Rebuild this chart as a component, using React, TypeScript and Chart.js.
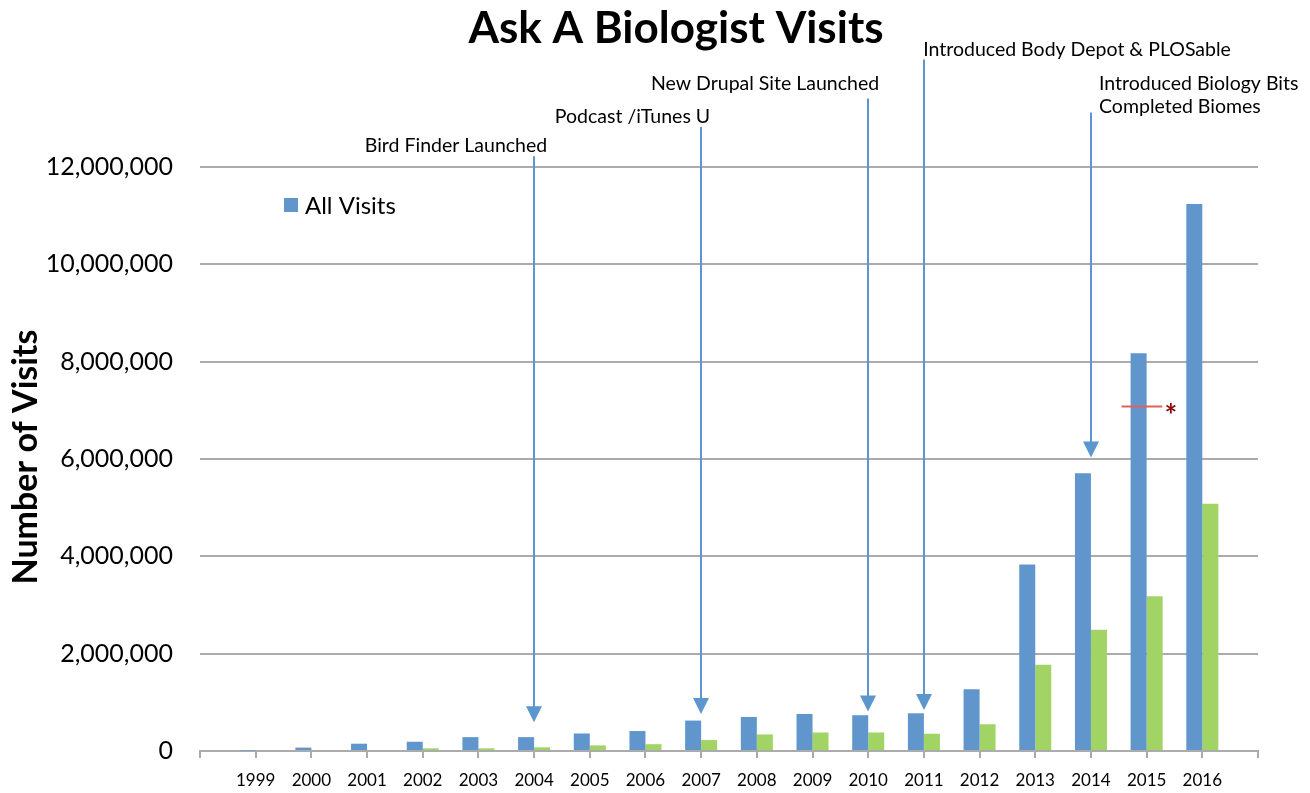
import React, { useEffect, useRef } from 'react';
import { Chart, registerables } from 'chart.js';

Chart.register(...registerables);

// ---------- data ----------
const years = ['1999', '2000', '2001', '2002', '2003', '2004', '2005', '2006', '2007', '2008', '2009', '2010', '2011', '2012', '2013', '2014', '2015', '2016'];
const allVisits = [10000, 70000, 150000, 190000, 285000, 285000, 360000, 410000, 625000, 700000, 760000, 735000, 775000, 1270000, 3830000, 5705000, 8175000, 11240000];
const otherVisits = [0, 0, 0, 55000, 55000, 75000, 115000, 140000, 225000, 340000, 380000, 380000, 355000, 550000, 1770000, 2490000, 3180000, 5080000];
const yTickValues = [0, 2000000, 4000000, 6000000, 8000000, 10000000, 12000000];

const arrowYears = ['2004', '2007', '2010', '2011', '2014'];
const arrowTipValues = [590000, 760000, 810000, 845000, 6030000];
const arrowTopValues = [12220000, 12820000, 13410000, 14210000, 13120000];

const noteTexts = ['Bird Finder Launched', 'Podcast /iTunes U', 'New Drupal Site Launched', 'Introduced Body Depot & PLOSable', 'Introduced Biology Bits', 'Completed Biomes'];
const noteValues = [12430000, 13040000, 13720000, 14410000, 13720000, 13230000];

const markerValue = 7080000;
const titleText = 'Ask A Biologist Visits';
const yTitleText = 'Number of Visits';

// layout of annotation anchors (category-index space) — not data
const noteAnchors = [
  { x: 4.597, align: 'center' },
  { x: 7.767, align: 'center' },
  { x: 10.147, align: 'center' },
  { x: 15.75, align: 'center' },
  { x: 16.145, align: 'left' },
  { x: 16.145, align: 'left' },
];

const BLUE = '#6096CB';
const GREEN = '#A1D465';
const ARROW = '#5B96CE';
const GRID = '#ABABAB';
const FONT = 'Lato, "Open Sans", sans-serif';

const labels = ['', ...years, ''];

const annotationPlugin = {
  id: 'annotations',
  afterDraw(chart: any) {
    const { ctx, scales } = chart;
    const xs = scales.x;
    const ys = scales.y;
    ctx.save();

    // title
    ctx.fillStyle = '#000';
    ctx.font = `bold 44px ${FONT}`;
    ctx.textAlign = 'center';
    ctx.textBaseline = 'alphabetic';
    ctx.fillText(titleText, 676, 43);

    // y title
    ctx.save();
    ctx.translate(37, 457);
    ctx.rotate(-Math.PI / 2);
    ctx.font = `bold 34px ${FONT}`;
    ctx.textAlign = 'center';
    ctx.fillText(yTitleText, 0, 0);
    ctx.restore();

    // legend
    ctx.fillStyle = BLUE;
    ctx.fillRect(284, 198, 14, 14);
    ctx.fillStyle = '#000';
    ctx.font = `24px ${FONT}`;
    ctx.textAlign = 'left';
    ctx.textBaseline = 'middle';
    ctx.fillText(chart.data.datasets[0].label, 305, 206);

    // arrows
    ctx.strokeStyle = ARROW;
    ctx.fillStyle = ARROW;
    ctx.lineWidth = 2;
    arrowYears.forEach((yr, i) => {
      const x = Math.round(xs.getPixelForValue(labels.indexOf(yr)));
      const yTip = ys.getPixelForValue(arrowTipValues[i]);
      const yTop = ys.getPixelForValue(arrowTopValues[i]);
      const hh = 16;
      const hw = 8;
      ctx.beginPath();
      ctx.moveTo(x, yTop);
      ctx.lineTo(x, yTip - hh + 1);
      ctx.stroke();
      ctx.beginPath();
      ctx.moveTo(x - hw, yTip - hh);
      ctx.lineTo(x + hw, yTip - hh);
      ctx.lineTo(x, yTip);
      ctx.closePath();
      ctx.fill();
    });

    // notes
    ctx.fillStyle = '#000';
    ctx.font = `19.5px ${FONT}`;
    ctx.textBaseline = 'middle';
    noteTexts.forEach((t, i) => {
      const a = noteAnchors[i];
      ctx.textAlign = a.align as CanvasTextAlign;
      ctx.fillText(t, xs.getPixelForValue(a.x), ys.getPixelForValue(noteValues[i]));
    });

    // red marker + asterisk on 2015
    const idx = labels.indexOf('2015');
    const my = Math.round(ys.getPixelForValue(markerValue)) + 0.5;
    ctx.strokeStyle = '#E0605A';
    ctx.lineWidth = 2;
    ctx.beginPath();
    ctx.moveTo(xs.getPixelForValue(idx - 0.45), my);
    ctx.lineTo(xs.getPixelForValue(idx + 0.28), my);
    ctx.stroke();
    ctx.fillStyle = '#8B0A0A';
    ctx.font = `bold 30px ${FONT}`;
    ctx.textAlign = 'left';
    ctx.textBaseline = 'middle';
    ctx.fillText('*', xs.getPixelForValue(idx + 0.32), ys.getPixelForValue(markerValue) + 10);

    ctx.restore();
  },
};

export default function App() {
  const ref = useRef<HTMLCanvasElement | null>(null);
  useEffect(() => {
    document.body.style.margin = '0';
    document.body.style.overflow = 'hidden';
    if (!ref.current) return;
    const chart = new Chart(ref.current, {
      type: 'bar',
      data: {
        labels,
        datasets: [
          {
            label: 'All Visits',
            data: [null, ...allVisits, null],
            backgroundColor: BLUE,
            categoryPercentage: 0.575,
            barPercentage: 1,
          },
          {
            label: 'Unique Visitors',
            data: [null, ...otherVisits, null],
            backgroundColor: GREEN,
            categoryPercentage: 0.575,
            barPercentage: 1,
          },
        ],
      },
      options: {
        animation: false,
        responsive: false,
        maintainAspectRatio: false,
        layout: { padding: { left: 0, right: 52, top: 167, bottom: 0 } },
        plugins: {
          legend: { display: false },
          title: { display: false },
          tooltip: { enabled: false },
        },
        scales: {
          x: {
            type: 'category',
            offset: false,
            grid: {
              offset: false,
              drawOnChartArea: false,
              drawTicks: true,
              tickLength: 7,
              color: GRID,
              lineWidth: 2,
            },
            border: { display: true, color: GRID, width: 2 },
            ticks: {
              autoSkip: false,
              maxRotation: 0,
              padding: 12,
              color: '#000',
              font: { family: FONT, size: 17 },
            },
            afterFit(scale: any) {
              scale.height = 39;
            },
          },
          y: {
            min: 0,
            max: 12000000,
            afterBuildTicks(scale: any) {
              scale.ticks = yTickValues.map((v) => ({ value: v }));
            },
            grid: { drawTicks: false, color: GRID, lineWidth: 2 },
            border: { display: false },
            ticks: {
              padding: 27,
              color: '#000',
              font: { family: FONT, size: 25 },
              callback: (v: any) => Number(v).toLocaleString('en-US'),
            },
            afterFit(scale: any) {
              scale.width = 200;
            },
          },
        },
      },
      plugins: [annotationPlugin],
    });
    return () => chart.destroy();
  }, []);
  return (
    <div style={{ width: 1310, height: 793, overflow: 'hidden' }}>
      <canvas ref={ref} width={1310} height={793} style={{ display: 'block' }} />
    </div>
  );
}
